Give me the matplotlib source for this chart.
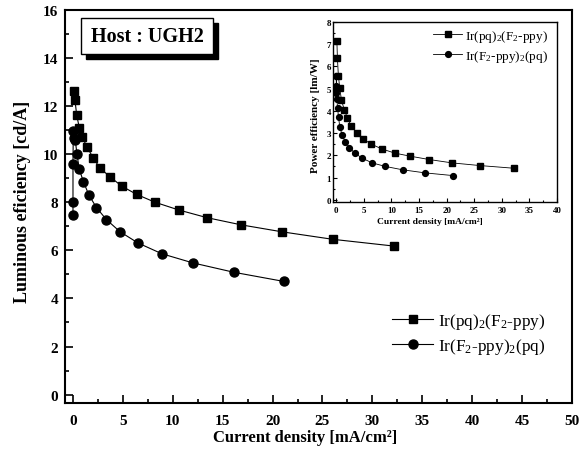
import matplotlib
matplotlib.use("Agg")
import matplotlib.pyplot as plt
from matplotlib.patches import Rectangle
from matplotlib.ticker import MultipleLocator

plt.rcParams['font.family'] = ['Liberation Serif', 'DejaVu Serif']
plt.rcParams['mathtext.fontset'] = 'custom'
plt.rcParams['mathtext.rm'] = 'Liberation Serif'
plt.rcParams['mathtext.it'] = 'Liberation Serif:italic'
plt.rcParams['mathtext.bf'] = 'Liberation Serif:bold'
plt.rcParams['mathtext.default'] = 'regular'

# ---- data ----
label_sq = r"Ir(pq)$_2$(F$_2$-ppy)"
label_ci = r"Ir(F$_2$-ppy)$_2$(pq)"

x_sq = [0.1, 0.2, 0.37, 0.63, 0.93, 1.43, 2.0, 2.7, 3.7, 4.9, 6.37, 8.23,
        10.6, 13.43, 16.87, 20.97, 26.03, 32.13]
le_sq = [12.63, 12.25, 11.63, 11.11, 10.7, 10.29, 9.86, 9.43, 9.06, 8.67,
         8.33, 8.0, 7.68, 7.36, 7.06, 6.77, 6.46, 6.18]
pe_sq = [7.16, 6.38, 5.59, 5.02, 4.49, 4.06, 3.69, 3.31, 3.01, 2.73, 2.5,
         2.29, 2.1, 1.96, 1.81, 1.66, 1.54, 1.42]

x_ci = [0.0, 0.0, 0.0, 0.03, 0.1, 0.23, 0.4, 0.63, 1.05, 1.6, 2.35, 3.35,
        4.7, 6.5, 8.9, 12.0, 16.1, 21.1]
le_ci = [7.47, 8.03, 9.61, 10.96, 10.68, 10.58, 10.0, 9.38, 8.85, 8.3, 7.78,
         7.28, 6.78, 6.31, 5.86, 5.48, 5.09, 4.71]
pe_ci = [4.8, 5.1, 5.56, 5.05, 4.55, 4.12, 3.72, 3.28, 2.92, 2.62, 2.35,
         2.1, 1.87, 1.66, 1.5, 1.35, 1.21, 1.09]

main_xticks = [0, 5, 10, 15, 20, 25, 30, 35, 40, 45, 50]
main_yticks = [0, 2, 4, 6, 8, 10, 12, 14, 16]
inset_xticks = [0, 5, 10, 15, 20, 25, 30, 35, 40]
inset_yticks = [0, 1, 2, 3, 4, 5, 6, 7, 8]

W, H = 585, 456
fig = plt.figure(figsize=(W / 100, H / 100), dpi=100)

# main axes
L, R, T, B = 65, 572, 11, 404
aw, ah = R - L, B - T
ax = fig.add_axes([L / W, 1 - B / H, aw / W, ah / H])
ax.plot(x_sq, le_sq, '-', color='black', lw=0.8, marker='s', ms=5.8,
        mfc='black', mec='black', label=label_sq)
ax.plot(x_ci, le_ci, '-', color='black', lw=0.8, marker='o', ms=6.5,
        mfc='black', mec='black', label=label_ci)
ax.set_xlim(-0.8, 50)
ax.set_ylim(-0.35, 16)
ax.set_xticks(main_xticks)
ax.set_yticks(main_yticks)
ax.xaxis.set_minor_locator(MultipleLocator(2.5))
ax.yaxis.set_minor_locator(MultipleLocator(1))
ax.tick_params(which='both', direction='in', top=False, right=False,
               width=1.2, labelsize=11)
ax.tick_params(axis='x', which='both', pad=8.0)
ax.tick_params(axis='y', which='both', pad=5.0)
ax.tick_params(which='major', length=6)
ax.tick_params(which='minor', length=3)
for lab in ax.get_xticklabels() + ax.get_yticklabels():
    lab.set_fontweight('bold')
for s in ax.spines.values():
    s.set_linewidth(1.5)
ax.set_xlabel("Current density [mA/cm²]", fontsize=12, fontweight='bold')
ax.set_ylabel("Luminous eficiency [cd/A]", fontsize=13, fontweight='bold')
ax.xaxis.set_label_coords((305 - L) / aw, (B - 438) / ah)
ax.yaxis.set_label_coords((23 - L) / aw, (B - 202) / ah)
ax.xaxis.label.set_va('center')
ax.yaxis.label.set_va('center')
ax.legend(loc='upper left', bbox_to_anchor=((392 - L) / aw, (B - 312) / ah),
          frameon=False, fontsize=12.4, handlelength=2.4, handletextpad=0.25,
          labelspacing=0.3, borderaxespad=0, borderpad=0)

# Host box with shadow
bx0, bx1, by0, by1 = 81, 213, 19, 55
off = 5
ax.add_patch(Rectangle(((bx0 + off - L) / aw, (B - by1 - off) / ah),
                       (bx1 - bx0) / aw, (by1 - by0) / ah,
                       transform=ax.transAxes, facecolor='black',
                       edgecolor='black', zorder=5, clip_on=False))
ax.add_patch(Rectangle(((bx0 - L) / aw, (B - by1) / ah),
                       (bx1 - bx0) / aw, (by1 - by0) / ah,
                       transform=ax.transAxes, facecolor='white',
                       edgecolor='black', lw=1.0, zorder=6, clip_on=False))
ax.text(((bx0 + bx1) / 2 - L) / aw, (B - (by0 + by1) / 2) / ah,
        "Host : UGH2", transform=ax.transAxes, ha='center', va='center',
        fontsize=14.5, fontweight='bold', zorder=7)

# inset
iL, iR, iT, iB = 333, 557, 23, 203
iw, ih = iR - iL, iB - iT
ins = fig.add_axes([iL / W, 1 - iB / H, iw / W, ih / H])
ins.plot(x_sq, pe_sq, '-', color='black', lw=0.6, marker='s', ms=3.8,
         mfc='black', mec='black', label=label_sq)
ins.plot(x_ci, pe_ci, '-', color='black', lw=0.6, marker='o', ms=4.2,
         mfc='black', mec='black', label=label_ci)
ins.set_xlim(-0.6, 40)
ins.set_ylim(-0.1, 8.0)
ins.set_xticks(inset_xticks)
ins.set_yticks(inset_yticks)
ins.xaxis.set_minor_locator(MultipleLocator(2.5))
ins.yaxis.set_minor_locator(MultipleLocator(0.5))
ins.tick_params(which='both', direction='in', top=False, right=False,
                width=0.8, labelsize=6.5)
ins.tick_params(axis='x', which='both', pad=3)
ins.tick_params(axis='y', which='both', pad=1.5)
ins.tick_params(which='major', length=3)
ins.tick_params(which='minor', length=1.5)
for lab in ins.get_xticklabels() + ins.get_yticklabels():
    lab.set_fontweight('bold')
for s in ins.spines.values():
    s.set_linewidth(1.0)
ins.set_xlabel("Current density [mA/cm²]", fontsize=6.8, fontweight='bold')
ins.set_ylabel("Power efficiency [lm/W]", fontsize=8, fontweight='bold')
ins.xaxis.set_label_coords((430 - iL) / iw, (iB - 222) / ih)
ins.yaxis.set_label_coords((315 - iL) / iw, (iB - 116) / ih)
ins.xaxis.label.set_va('center')
ins.yaxis.label.set_va('center')
ins.legend(loc='upper left', bbox_to_anchor=((433 - iL) / iw, (iB - 29) / ih),
           frameon=False, fontsize=9.5, handlelength=2.2, handletextpad=0.25,
           labelspacing=0.3, borderaxespad=0, borderpad=0)

fig.savefig("out.png", dpi=100)
